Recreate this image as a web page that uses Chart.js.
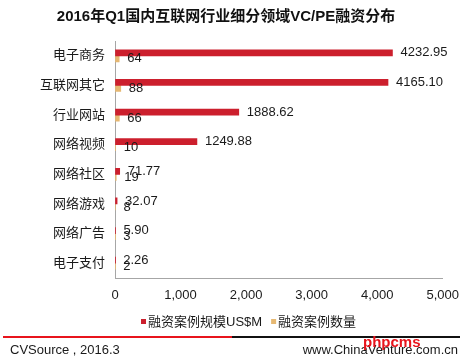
<!DOCTYPE html>
<html>
<head>
<meta charset="utf-8">
<script src="https://cdn.jsdelivr.net/npm/chart.js@4"></script>
<style>
  html, body { margin: 0; padding: 0; background: #fff; }
  #wrap { width: 469px; height: 362px; position: relative; }
</style>
</head>
<body>
<div id="wrap"><canvas id="chart"></canvas></div>
<script>
// Chart data
const categories = ["电子商务", "互联网其它", "行业网站", "网络视频", "网络社区", "网络游戏", "网络广告", "电子支付"];
const dealAmount = [4232.95, 4165.10, 1888.62, 1249.88, 71.77, 32.07, 5.90, 2.26];
const dealCount = [64, 88, 66, 10, 19, 8, 3, 2];
const xTicks = [0, 1000, 2000, 3000, 4000, 5000];

const titleText = "2016年Q1国内互联网行业细分领域VC/PE融资分布";
const seriesNames = ["融资案例规模US$M", "融资案例数量"];
const RED = "#cc1f2d";
const GOLD = "#e6b872";
const FONT = "'Liberation Sans', 'Noto Sans CJK SC', sans-serif";

// Value labels next to each bar
const valueLabels = {
  id: "valueLabels",
  afterDatasetsDraw(chart) {
    const ctx = chart.ctx;
    ctx.save();
    ctx.font = "13px " + FONT;
    ctx.fillStyle = "#1a1a1a";
    ctx.textAlign = "left";
    ctx.textBaseline = "middle";
    chart.data.datasets.forEach((ds, i) => {
      chart.getDatasetMeta(i).data.forEach((bar, j) => {
        const v = ds.data[j];
        const txt = i === 0 ? v.toFixed(2) : String(v);
        ctx.fillText(txt, bar.x + 8, bar.y);
      });
    });
    ctx.restore();
  }
};

// Title, legend and footer
const decorations = {
  id: "decorations",
  afterDraw(chart) {
    const ctx = chart.ctx;
    ctx.save();
    // title
    ctx.font = "bold 15px " + FONT;
    ctx.fillStyle = "#111";
    ctx.textAlign = "center";
    ctx.textBaseline = "middle";
    ctx.fillText(titleText, 226, 17);

    // legend
    ctx.font = "13px " + FONT;
    ctx.textAlign = "left";
    let x = 141;
    const ly = 322;
    chart.data.datasets.forEach((ds) => {
      ctx.fillStyle = ds.backgroundColor;
      ctx.fillRect(x, ly - 3, 5, 5);
      x += 7;
      ctx.fillStyle = "#1a1a1a";
      ctx.fillText(ds.label, x, ly);
      x += ctx.measureText(ds.label).width + 9;
    });

    // footer lines
    ctx.lineWidth = 2;
    ctx.strokeStyle = "#e8141c";
    ctx.beginPath();
    ctx.moveTo(3, 337);
    ctx.lineTo(232, 337);
    ctx.stroke();
    ctx.strokeStyle = "#111";
    ctx.beginPath();
    ctx.moveTo(232, 337);
    ctx.lineTo(460, 337);
    ctx.stroke();

    // footer text
    ctx.fillStyle = "#1a1a1a";
    ctx.font = "13px " + FONT;
    ctx.fillText("CVSource , 2016.3", 10, 350);
    ctx.textAlign = "right";
    ctx.fillText("www.ChinaVenture.com.cn", 458, 350);
    ctx.textAlign = "left";
    ctx.fillStyle = "#e8141c";
    ctx.font = "bold 15px " + FONT;
    ctx.fillText("phpcms", 363, 343);
    ctx.restore();
  }
};

new Chart(document.getElementById("chart"), {
  type: "bar",
  data: {
    labels: categories,
    datasets: [
      { label: seriesNames[0], data: dealAmount, backgroundColor: RED, barThickness: 6 },
      { label: seriesNames[1], data: dealCount, backgroundColor: GOLD, barThickness: 6 }
    ]
  },
  options: {
    indexAxis: "y",
    responsive: true,
    maintainAspectRatio: false,
    animation: false,
    layout: { padding: { left: 0, top: 41, right: 26, bottom: 54 } },
    plugins: {
      legend: { display: false },
      title: { display: false },
      tooltip: { enabled: false }
    },
    scales: {
      x: {
        min: 0,
        max: 5000,
        afterBuildTicks: (scale) => { scale.ticks = xTicks.map(v => ({ value: v })); },
        afterFit: (scale) => { scale.height = 30; },
        grid: { display: true, drawOnChartArea: false, drawTicks: false },
        border: { display: true, color: "#a6a6a6", width: 1 },
        ticks: {
          padding: 10,
          color: "#1a1a1a",
          font: { family: FONT, size: 13 },
          callback: (v) => Number(v).toLocaleString("en-US")
        }
      },
      y: {
        afterFit: (scale) => { scale.width = 115; },
        grid: { display: true, drawOnChartArea: false, drawTicks: false },
        border: { display: true, color: "#a6a6a6", width: 1 },
        ticks: {
          padding: 10,
          color: "#1a1a1a",
          font: { family: FONT, size: 13 }
        }
      }
    }
  },
  plugins: [valueLabels, decorations]
});
</script>
</body>
</html>
